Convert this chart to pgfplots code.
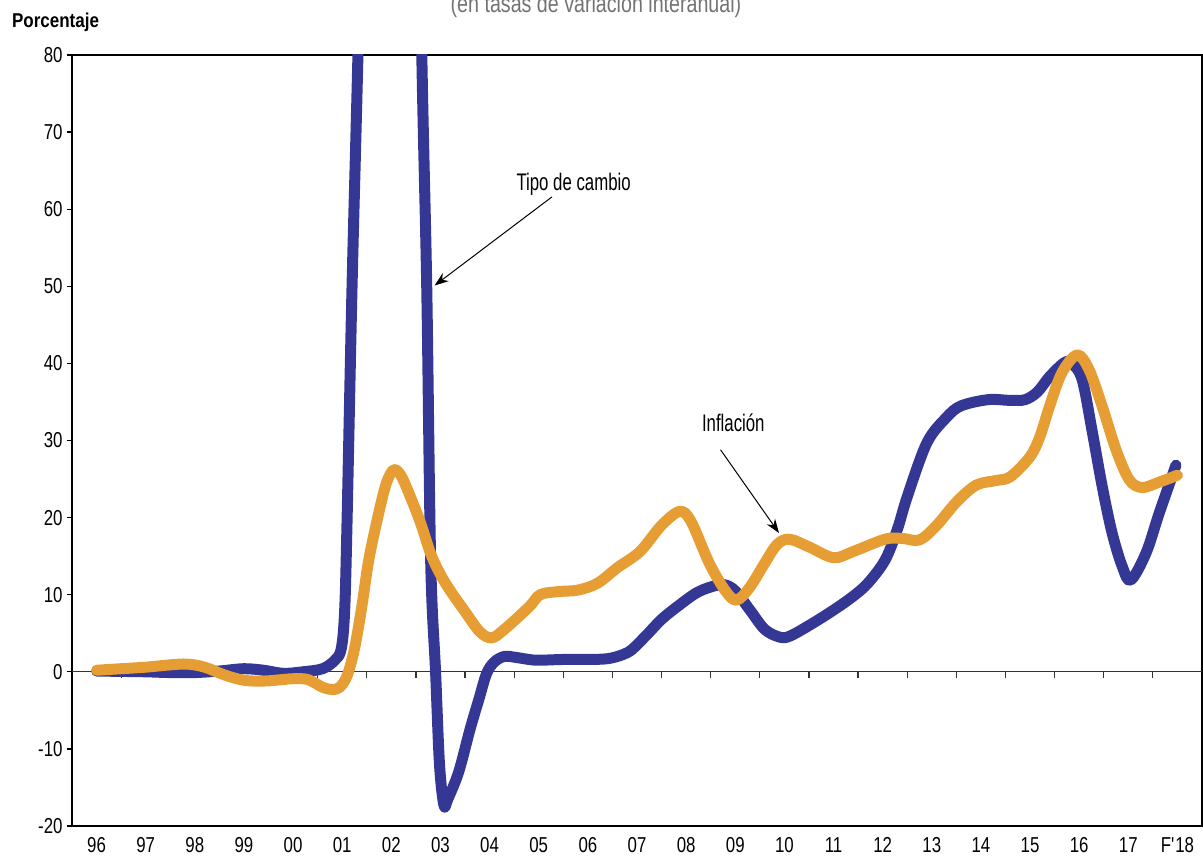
\documentclass[border=0pt]{standalone}
\usepackage{fontspec}
\setmainfont{Liberation Sans}
\newfontfamily\tickfont{Liberation Sans}[FakeStretch=0.78]
\newfontfamily\annfont{Liberation Sans}[FakeStretch=0.7]
\newfontfamily\porcfont{Liberation Sans}[FakeStretch=0.85]
\usepackage{pgfplots}
\pgfplotsset{compat=1.18}
\usetikzlibrary{arrows.meta}
\definecolor{tcblue}{RGB}{52,56,148}
\definecolor{infor}{RGB}{230,158,52}
\begin{document}
\begin{tikzpicture}
\begin{axis}[
  at={(0,0)}, anchor=south west,
  scale only axis, width=565pt, height=385.5pt,
  xmin=-0.5, xmax=22.5, ymin=-20, ymax=80,
  xtick={0,...,22},
  xticklabels={96,97,98,99,00,01,02,03,04,05,06,07,08,09,10,11,12,13,14,15,16,17,F\textquotesingle 18},
  ytick={-20,-10,...,80},
  tick align=outside,
  major tick length=2.5pt,
  xtick style={draw=none},
  ytick style={line width=0.6pt, black},
  xticklabel style={font=\tickfont\fontsize{10.8}{12}\selectfont, anchor=north, inner sep=0pt, yshift=-3pt},
  yticklabel style={font=\tickfont\fontsize{10.8}{12}\selectfont, anchor=east, inner sep=0pt, xshift=-2pt},
  /pgf/number format/assume math mode=true,
  axis line style={line width=1pt},
  enlargelimits=false,
]
\draw[line width=0.7pt, black!80] (axis cs:-0.5,0) -- (axis cs:22.5,0);
\pgfplotsinvokeforeach{0,...,21}{\draw[line width=0.6pt, black!80] (axis cs:#1.5,0) -- ++(0pt,-3pt);}

\addplot[tcblue, line width=5.5pt, line cap=round, line join=round, smooth, tension=0.55] coordinates {
(0,0.1) (0.5,0.05) (1,0) (1.5,-0.1) (2,-0.1) (2.5,0.1) (3,0.4) (3.4,0.2) (3.8,-0.2) (4.2,0) (4.6,0.4)
(4.85,1.5) (4.98,3) (5.05,8) (5.1,20) (5.2,50) (5.32,80) (5.5,130) (6.0,220) (6.5,130) (6.62,80)
(6.72,50) (6.8,14.5) (6.9,0) (6.98,-12) (7.07,-17.3) (7.15,-16.5) (7.37,-13) (7.6,-7.5) (7.78,-3.6)
(7.94,-0.2) (8.1,1.3) (8.3,2.0) (8.5,1.9) (8.8,1.6) (9.0,1.5) (9.5,1.6) (10,1.6) (10.4,1.7) (10.7,2.2)
(10.9,2.9) (11.2,4.8) (11.5,6.8) (11.83,8.5) (12.2,10.2) (12.5,11.0) (12.77,11.3) (13.0,10.5) (13.3,8.0)
(13.6,5.5) (13.9,4.5) (14.1,4.6) (14.5,6.0) (15.0,8.0) (15.4,9.8) (15.7,11.5) (16.05,14.5) (16.3,18.5)
(16.5,22.7) (16.9,29.7) (17.3,33.0) (17.6,34.5) (18.15,35.3) (18.6,35.2) (18.9,35.3) (19.15,36.3)
(19.4,38.3) (19.7,40.1) (19.85,40.0) (20.06,37.9) (20.27,31) (20.47,24) (20.67,18) (20.88,13.6) (21.05,11.9)
(21.36,15.4) (21.63,20.6) (21.97,26.8)
};
\addplot[infor, line width=5.5pt, line cap=round, line join=round, smooth, tension=0.55] coordinates {
(0,0.2) (0.5,0.4) (1,0.6) (1.5,0.9) (1.85,1.0) (2.2,0.6) (2.6,-0.4) (3.0,-1.1) (3.4,-1.2) (3.8,-1.0)
(4.0,-0.9) (4.3,-1.0) (4.6,-2.0) (4.8,-2.3) (4.95,-2.0) (5.1,-0.5) (5.25,3) (5.4,8.5) (5.54,14.5)
(5.74,20.5) (5.9,24.5) (6.05,26.2) (6.2,25.4) (6.4,22.5) (6.6,19.2) (6.82,15.0) (7.1,11.5) (7.5,7.8) (7.8,5.2) (8.04,4.4) (8.3,5.5)
(8.8,8.4) (9.03,10.0) (9.4,10.4) (9.8,10.6) (10.2,11.5) (10.6,13.5) (11.06,15.6) (11.5,19.0) (11.87,20.8)
(12.1,19.5) (12.47,14.1) (12.8,10.5) (13.03,9.3) (13.3,11) (13.6,14.1) (13.85,16.5) (14.1,17.2)
(14.5,16.2) (15.0,14.8) (15.4,15.6) (16.05,17.2) (16.4,17.3) (16.75,17.1) (17.1,19) (17.5,22) (17.9,24.2)
(18.3,24.8) (18.6,25.3) (19.0,27.9) (19.2,30.5) (19.4,34.5) (19.65,38.8) (19.96,41.1) (20.2,39.2)
(20.47,34.4) (20.75,28.8) (21.02,24.9) (21.28,23.9) (21.63,24.6) (22.0,25.5)
};

\node[font=\annfont\fontsize{12}{14}\selectfont] at (axis cs:9.71,63.2) {Tipo de cambio};
\draw[-{Stealth[length=7pt,width=5pt]}, line width=0.5pt] (axis cs:9.27,61.6) -- (axis cs:6.88,50.1);
\node[font=\annfont\fontsize{12}{14}\selectfont] at (axis cs:12.96,32.3) {Inflación};
\draw[-{Stealth[length=7pt,width=5pt]}, line width=0.5pt] (axis cs:12.70,28.8) -- (axis cs:13.89,18.0);
\end{axis}
\node[font=\porcfont\bfseries\fontsize{10}{12}\selectfont] at (-8.25pt,402pt) {Porcentaje};
\node[anchor=base, text={rgb,255:red,115;green,115;blue,115}, font=\tickfont\fontsize{12.6}{14}\selectfont] at (262pt,406.5pt) {(en tasas de variación interanual)};
\pgfresetboundingbox
\useasboundingbox (-36pt,-15pt) rectangle (565.5pt,413pt);
\end{tikzpicture}
\end{document}
